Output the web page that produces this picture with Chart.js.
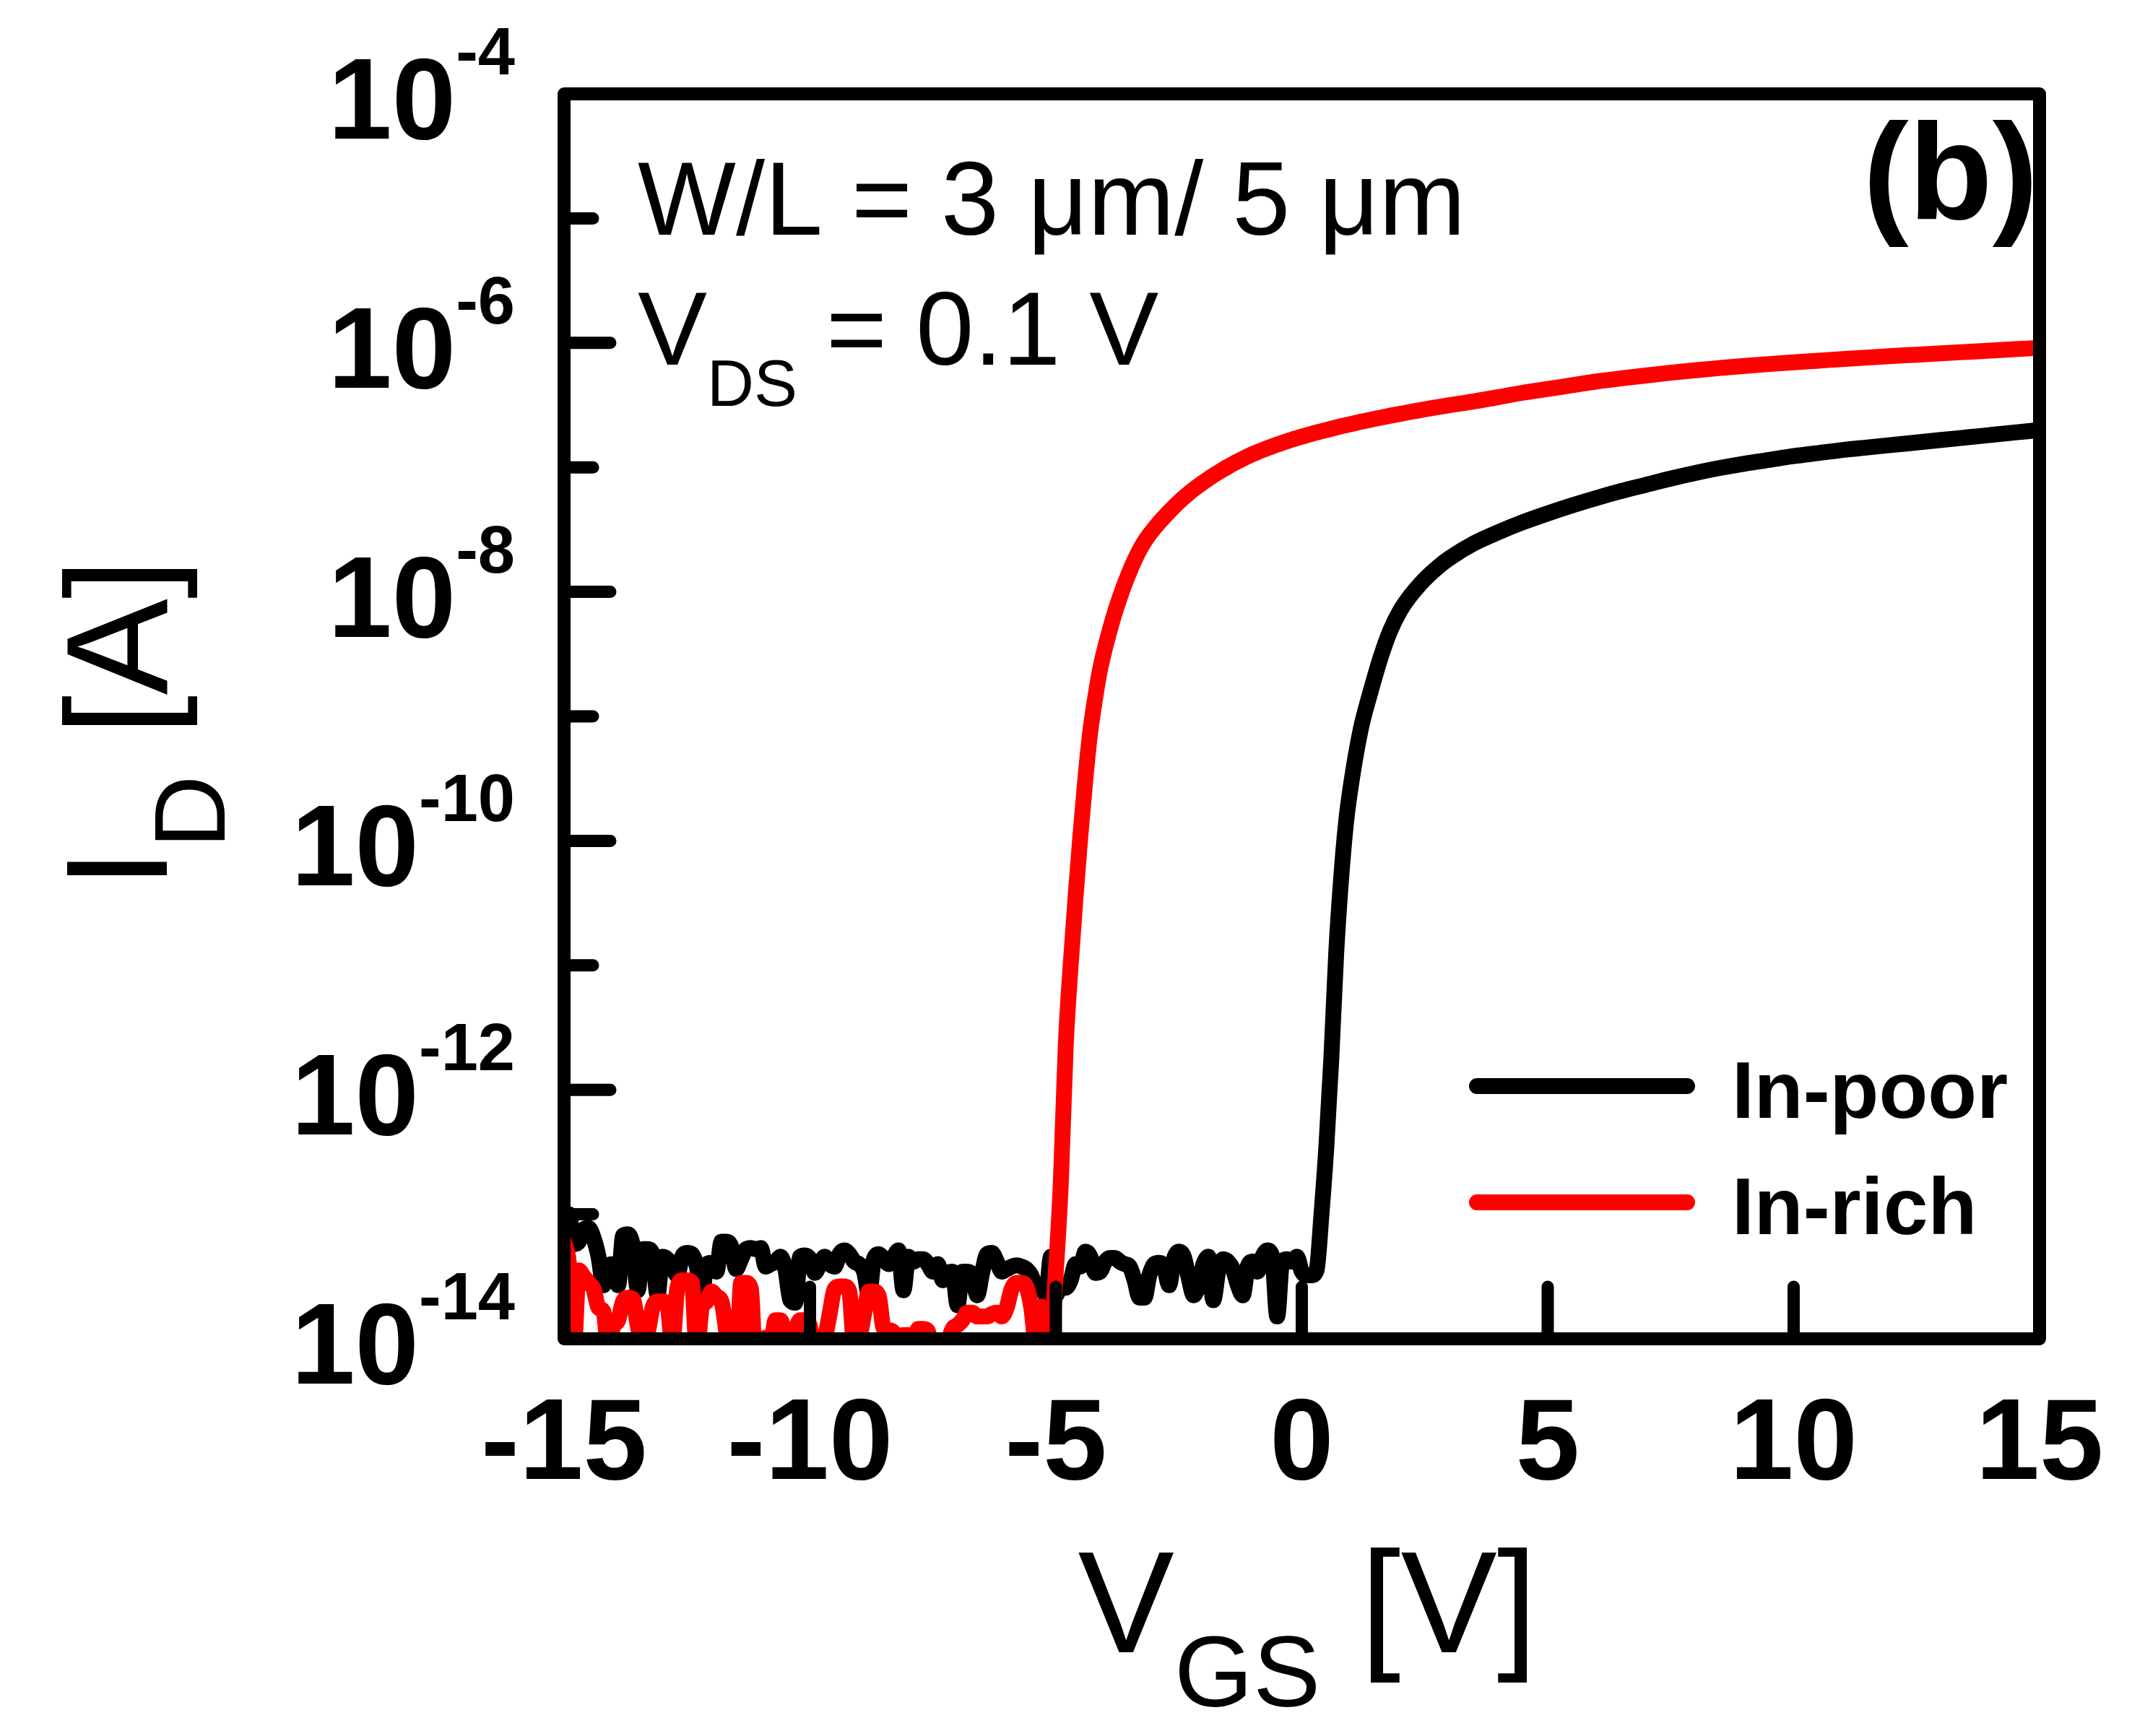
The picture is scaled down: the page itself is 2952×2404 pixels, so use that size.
<!DOCTYPE html>
<html>
<head>
<meta charset="utf-8">
<title>ID-VGS transfer curves</title>
<script src="https://cdn.jsdelivr.net/npm/chart.js@4"></script>
<style>
  html, body { margin: 0; padding: 0; background: #fff; }
  canvas { display: block; }
</style>
</head>
<body>
<canvas id="transferChart" width="2952" height="2404"></canvas>
<script>
// gate voltage sweep [V]
const vgs = [
  -15.0, -14.9, -14.8, -14.7, -14.6, -14.5, -14.4, -14.3, -14.2, -14.1,
  -14.0, -13.9, -13.8, -13.7, -13.6, -13.5, -13.4, -13.3, -13.2, -13.1,
  -13.0, -12.9, -12.8, -12.7, -12.6, -12.5, -12.4, -12.3, -12.2, -12.1,
  -12.0, -11.9, -11.8, -11.7, -11.6, -11.5, -11.4, -11.3, -11.2, -11.1,
  -11.0, -10.9, -10.8, -10.7, -10.6, -10.5, -10.4, -10.3, -10.2, -10.1,
  -10.0, -9.9, -9.8, -9.7, -9.6, -9.5, -9.4, -9.3, -9.2, -9.1,
  -9.0, -8.9, -8.8, -8.7, -8.6, -8.5, -8.4, -8.3, -8.2, -8.1,
  -8.0, -7.9, -7.8, -7.7, -7.6, -7.5, -7.4, -7.3, -7.2, -7.1,
  -7.0, -6.9, -6.8, -6.7, -6.6, -6.5, -6.4, -6.3, -6.2, -6.1,
  -6.0, -5.9, -5.8, -5.7, -5.6, -5.5, -5.4, -5.3, -5.2, -5.1,
  -5.0, -4.9, -4.8, -4.7, -4.6, -4.5, -4.4, -4.3, -4.2, -4.1,
  -4.0, -3.9, -3.8, -3.7, -3.6, -3.5, -3.4, -3.3, -3.2, -3.1,
  -3.0, -2.9, -2.8, -2.7, -2.6, -2.5, -2.4, -2.3, -2.2, -2.1,
  -2.0, -1.9, -1.8, -1.7, -1.6, -1.5, -1.4, -1.3, -1.2, -1.1,
  -1.0, -0.9, -0.8, -0.7, -0.6, -0.5, -0.4, -0.3, -0.2, -0.1,
  0.0, 0.1, 0.2, 0.3, 0.4, 0.5, 0.6, 0.7, 0.8, 0.9,
  1.0,
  1.2, 1.4, 1.6, 1.8, 2.0, 2.2, 2.4, 2.6, 2.8, 3.0,
  3.5, 4.0, 4.5, 5.0, 5.5, 6.0, 6.5, 7.0, 7.5, 8.0, 8.5, 9.0,
  9.5, 10.0, 10.5, 11.0, 11.5, 12.0, 12.5, 13.0, 13.5, 14.0, 14.5, 15.0
];

// log10(ID [A]), In-poor
const logIdPoor = [
  -13.00, -13.00, -13.24, -13.22, -13.12, -13.11, -13.19, -13.34, -13.57, -13.41,
  -13.40, -13.57, -13.17, -13.16, -13.26, -13.61, -13.28, -13.28, -13.32, -13.65,
  -13.34, -13.36, -13.42, -13.49, -13.34, -13.31, -13.32, -13.42, -13.65, -13.40,
  -13.39, -13.46, -13.22, -13.22, -13.26, -13.44, -13.36, -13.28, -13.27, -13.28,
  -13.27, -13.42, -13.40, -13.38, -13.34, -13.44, -13.69, -13.71, -13.34, -13.33,
  -13.36, -13.47, -13.40, -13.34, -13.40, -13.42, -13.32, -13.29, -13.32, -13.38,
  -13.40, -13.46, -13.65, -13.36, -13.32, -13.36, -13.40, -13.34, -13.29, -13.61,
  -13.34, -13.38, -13.36, -13.36, -13.40, -13.46, -13.40, -13.53, -13.47, -13.46,
  -13.73, -13.46, -13.46, -13.49, -13.65, -13.47, -13.32, -13.31, -13.38, -13.46,
  -13.44, -13.42, -13.41, -13.42, -13.44, -13.49, -13.59, -13.59, -13.65, -13.34,
  -13.65, -13.57, -13.59, -13.53, -13.40, -13.42, -13.30, -13.34, -13.47, -13.46,
  -13.38, -13.35, -13.35, -13.38, -13.40, -13.42, -13.53, -13.67, -13.67, -13.49,
  -13.40, -13.39, -13.42, -13.57, -13.36, -13.30, -13.34, -13.51, -13.65, -13.57,
  -13.40, -13.34, -13.69, -13.46, -13.36, -13.38, -13.44, -13.57, -13.65, -13.42,
  -13.38, -13.46, -13.34, -13.29, -13.34, -13.82, -13.38, -13.36, -13.38, -13.34,
  -13.46, -13.49, -13.49, -13.45, -13.00, -12.45, -11.75, -10.90, -10.30, -9.85,
  -9.55,
  -9.10, -8.80, -8.53, -8.31, -8.150, -8.035, -7.940, -7.860, -7.790, -7.730,
  -7.610, -7.520, -7.440, -7.370, -7.305, -7.245, -7.190, -7.140, -7.090, -7.045, -7.005, -6.970,
  -6.940, -6.910, -6.885, -6.860, -6.840, -6.820, -6.800, -6.780, -6.760, -6.740, -6.720, -6.700
];

// log10(ID [A]), In-rich
const logIdRich = [
  -13.22, -13.40, -14.05, -13.45, -13.50, -13.55, -13.60, -13.75, -13.78, -14.05,
  -13.90, -13.85, -13.70, -13.67, -13.68, -13.90, -14.05, -13.95, -13.75, -13.70,
  -13.70, -13.72, -14.05, -13.60, -13.53, -13.53, -13.55, -14.10, -13.75, -13.70,
  -13.62, -13.66, -13.70, -13.95, -14.30, -14.30, -13.55, -13.55, -13.60, -14.30,
  -14.30, -13.99, -14.05, -13.85, -13.85, -13.95, -13.93, -13.92, -13.85, -13.85,
  -13.90, -14.20, -14.10, -14.00, -13.80, -13.60, -13.58, -13.58, -13.62, -14.05,
  -14.00, -13.80, -13.62, -13.62, -13.66, -13.92, -13.93, -13.95, -14.20, -13.97,
  -13.97, -14.05, -13.92, -13.92, -13.94, -14.20, -14.30, -14.30, -14.05, -13.92,
  -13.89, -13.85, -13.79, -13.79, -13.82, -13.82, -13.82, -13.80, -13.79, -13.82,
  -13.75, -13.60, -13.55, -13.55, -13.58, -13.75, -14.05, -13.74, -13.90, -14.00,
  -13.45, -12.75, -11.65, -11.00, -10.45, -9.95, -9.50, -9.12, -8.85, -8.62,
  -8.450, -8.300, -8.165, -8.045, -7.935, -7.835, -7.745, -7.665, -7.597, -7.540,
  -7.490, -7.443, -7.399, -7.357, -7.317, -7.279, -7.243, -7.209, -7.177, -7.147,
  -7.119, -7.092, -7.066, -7.041, -7.017, -6.994, -6.972, -6.951, -6.931, -6.912,
  -6.894, -6.877, -6.861, -6.846, -6.831, -6.817, -6.803, -6.790, -6.777, -6.765,
  -6.753, -6.742, -6.731, -6.720, -6.710, -6.700, -6.690, -6.680, -6.670, -6.661,
  -6.652,
  -6.634, -6.617, -6.601, -6.585, -6.570, -6.555, -6.541, -6.527, -6.514, -6.501,
  -6.470, -6.435, -6.400, -6.370, -6.340, -6.310, -6.285, -6.262, -6.240, -6.220, -6.202, -6.185,
  -6.170, -6.156, -6.143, -6.130, -6.118, -6.106, -6.095, -6.084, -6.073, -6.062, -6.051, -6.040
];

const xTickValues = [-15, -10, -5, 0, 5, 10, 15];
const yMajorExps = [-4, -6, -8, -10, -12, -14];
const yMinorExps = [-5, -7, -9, -11, -13];
const seriesNames = ["In-poor", "In-rich"];
const seriesColors = ["#000000", "#ff0000"];

const FONT = "'Liberation Sans', Arial, Helvetica, sans-serif";

const toPoints = logs => vgs.map((v, i) => ({ x: v, y: Math.pow(10, logs[i]) }));

// draws frame, ticks, labels, titles, legend and notes in Origin style
const originFrame = {
  id: "originFrame",
  beforeDraw(chart) {
    const c = chart.ctx;
    c.save();
    c.fillStyle = "#fff";
    c.fillRect(0, 0, chart.width, chart.height);
    c.restore();
  },
  afterDatasetsDraw(chart) {
    const c = chart.ctx;
    const { left, right, top, bottom } = chart.chartArea;
    const xs = chart.scales.x, ys = chart.scales.y;
    c.save();
    c.strokeStyle = "#000";
    c.fillStyle = "#000";
    c.lineCap = "round";

    // ticks (inward)
    c.lineWidth = 17;
    xTickValues.forEach(v => {
      const px = xs.getPixelForValue(v);
      if (px <= left + 1 || px >= right - 1) return;
      c.beginPath(); c.moveTo(px, bottom); c.lineTo(px, bottom - 72); c.stroke();
    });
    yMajorExps.forEach(e => {
      const py = ys.getPixelForValue(Math.pow(10, e));
      if (py <= top + 1 || py >= bottom - 1) return;
      c.beginPath(); c.moveTo(left, py); c.lineTo(left + 64, py); c.stroke();
    });
    yMinorExps.forEach(e => {
      const py = ys.getPixelForValue(Math.pow(10, e));
      c.beginPath(); c.moveTo(left, py); c.lineTo(left + 40, py); c.stroke();
    });

    // frame
    c.lineWidth = 18;
    c.lineJoin = "round";
    c.strokeRect(left, top, right - left, bottom - top);

    // x tick labels
    c.font = "bold 159px " + FONT;
    c.textAlign = "center";
    c.textBaseline = "alphabetic";
    xTickValues.forEach(v => {
      c.fillText(String(v), xs.getPixelForValue(v), bottom + 194);
    });

    // y tick labels: 10 with superscript exponent
    const labelRight = left - 68;
    yMajorExps.forEach(e => {
      const py = ys.getPixelForValue(Math.pow(10, e));
      c.textAlign = "right";
      c.font = "bold 92px " + FONT;
      const sup = String(e);
      const supW = c.measureText(sup).width;
      c.fillText(sup, labelRight, py - 27);
      c.font = "bold 159px " + FONT;
      c.fillText("10", labelRight - supW, py + 62);
    });

    // x axis title: V_GS [V]
    c.textAlign = "left";
    c.font = "200px " + FONT;
    const wV = c.measureText("V").width;
    const wTail = c.measureText(" [V]").width;
    c.font = "140px " + FONT;
    const wGS = c.measureText("GS").width;
    const x0 = (left + right) / 2 - (wV + wGS + wTail) / 2 + 8;
    c.font = "200px " + FONT;
    c.fillText("V", x0, 2288);
    c.font = "140px " + FONT;
    c.fillText("GS", x0 + wV, 2363);
    c.font = "200px " + FONT;
    c.fillText(" [V]", x0 + wV + wGS, 2288);

    // y axis title: I_D [A], rotated
    c.save();
    c.translate(231, (top + bottom) / 2 + 10);
    c.rotate(-Math.PI / 2);
    c.font = "200px " + FONT;
    const wI = c.measureText("I").width;
    const wA = c.measureText(" [A]").width;
    c.font = "140px " + FONT;
    const wD = c.measureText("D").width;
    const y0 = -(wI + wD + wA) / 2;
    c.font = "200px " + FONT;
    c.fillText("I", y0, 0);
    c.font = "140px " + FONT;
    c.fillText("D", y0 + wI, 80);
    c.font = "200px " + FONT;
    c.fillText(" [A]", y0 + wI + wD, 0);
    c.restore();

    // device notes
    c.textAlign = "left";
    c.font = "144px " + FONT;
    c.fillText("W/L = 3 \u03bcm/ 5 \u03bcm", 883, 325);
    c.fillText("V", 883, 505);
    const wV2 = c.measureText("V").width;
    c.font = "90px " + FONT;
    c.fillText("DS", 883 + wV2, 562);
    const wDS = c.measureText("DS").width;
    c.font = "144px " + FONT;
    c.fillText(" = 0.1 V", 883 + wV2 + wDS, 505);

    c.textAlign = "right";
    c.font = "bold 190px " + FONT;
    c.fillText("(b)", 2822, 303);

    // legend
    const legendRows = [1504, 1665];
    c.lineWidth = 22;
    c.lineCap = "round";
    legendRows.forEach((ly, i) => {
      c.strokeStyle = seriesColors[i];
      c.beginPath(); c.moveTo(2045, ly); c.lineTo(2336, ly); c.stroke();
      c.fillStyle = "#000";
      c.textAlign = "left";
      c.font = "bold 111px " + FONT;
      c.fillText(seriesNames[i], 2398, ly + 44);
    });
    c.restore();
  }
};

const lineStyle = color => ({
  borderColor: color,
  backgroundColor: color,
  borderWidth: 22,
  pointRadius: 0,
  borderJoinStyle: "round",
  borderCapStyle: "round",
  cubicInterpolationMode: "monotone",
  fill: false,
  clip: 0
});

new Chart(document.getElementById("transferChart"), {
  type: "line",
  data: {
    datasets: [
      { label: seriesNames[0], data: toPoints(logIdPoor), order: 1, ...lineStyle(seriesColors[0]) },
      { label: seriesNames[1], data: toPoints(logIdRich), order: 0, ...lineStyle(seriesColors[1]) }
    ]
  },
  options: {
    responsive: false,
    devicePixelRatio: 1,
    animation: false,
    parsing: false,
    normalized: true,
    layout: { padding: { left: 781, right: 128, top: 130, bottom: 550 } },
    plugins: { legend: { display: false }, tooltip: { enabled: false } },
    scales: {
      x: { type: "linear", min: -15, max: 15, display: false },
      y: { type: "logarithmic", min: 1e-14, max: 1e-4, display: false }
    }
  },
  plugins: [originFrame]
});
</script>
</body>
</html>
